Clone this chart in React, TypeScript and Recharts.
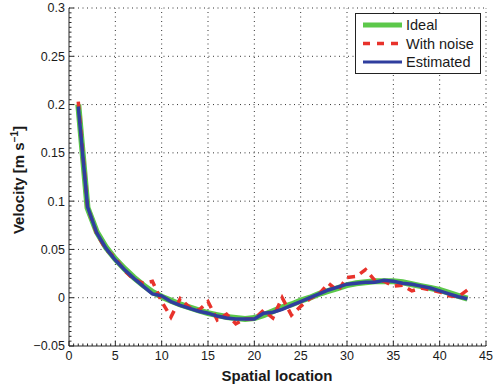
import React from 'react';
import { LineChart, Line, XAxis, YAxis, ReferenceLine, Legend } from 'recharts';

// ---------------------------------------------------------------------------
// data
// ---------------------------------------------------------------------------

const positions = [
  1, 2, 3, 4, 5, 6, 7, 8, 9, 10, 11, 12, 13, 14, 15, 16, 17, 18, 19, 20, 21, 22,
  23, 24, 25, 26, 27, 28, 29, 30, 31, 32, 33, 34, 35, 36, 37, 38, 39, 40, 41, 42, 43,
];

const ideal = [
  0.2, 0.093, 0.068, 0.052, 0.04, 0.03, 0.021, 0.013, 0.006, 0.001, -0.003, -0.007,
  -0.01, -0.013, -0.016, -0.018, -0.02, -0.021, -0.022, -0.021, -0.018, -0.014,
  -0.01, -0.007, -0.003, 0.0, 0.004, 0.007, 0.01, 0.013, 0.015, 0.016, 0.017, 0.017,
  0.017, 0.016, 0.014, 0.012, 0.01, 0.008, 0.005, 0.002, -0.001,
];

const withNoise = [
  0.203, 0.094, 0.066, 0.05, 0.041, 0.028, 0.019, 0.015, 0.017, -0.004, -0.02,
  -0.001, -0.01, -0.013, -0.004, -0.023, -0.017, -0.027, -0.022, -0.022, -0.013,
  -0.021, 0.0, -0.018, -0.009, -0.001, 0.004, 0.015, 0.007, 0.021, 0.022, 0.029,
  0.018, 0.017, 0.012, 0.013, 0.007, 0.01, 0.008, 0.006, 0.002, 0.001, 0.008,
];

const estimated = [
  0.198, 0.094, 0.067, 0.051, 0.039, 0.029, 0.02, 0.012, 0.004, 0.002, -0.004,
  -0.008, -0.011, -0.014, -0.016, -0.019, -0.021, -0.022, -0.022, -0.022, -0.016,
  -0.015, -0.012, -0.008, -0.004, 0.0, 0.004, 0.008, 0.011, 0.014, 0.015, 0.016,
  0.016, 0.018, 0.017, 0.015, 0.014, 0.012, 0.01, 0.007, 0.004, 0.001, -0.001,
];

const xMajorTicks = [0, 5, 10, 15, 20, 25, 30, 35, 40, 45];
const yMajorTicks = [-0.05, 0, 0.05, 0.1, 0.15, 0.2, 0.25, 0.3];
const yTickLabels = ['\u22120.05', '0', '0.05', '0.1', '0.15', '0.2', '0.25', '0.3'];

const seriesNames = ['Ideal', 'With noise', 'Estimated'];

// ---------------------------------------------------------------------------
// styles
// ---------------------------------------------------------------------------

const FONT = '"Liberation Sans", Arial, Helvetica, sans-serif';
const AXIS = '#262626';
const GREEN = '#5cc84a';
const RED = '#e8322b';
const BLUE = '#2f3e9e';

const data = positions.map((p, i) => ({
  x: p,
  ideal: ideal[i],
  noise: withNoise[i],
  est: estimated[i],
}));

// minor ticks: 10 per major interval (matlab style)
const xTicks = Array.from({ length: 91 }, (_, i) => i * 0.5);
const yTicks = Array.from({ length: 71 }, (_, i) => Math.round((-0.05 + i * 0.005) * 1000) / 1000);

const isMajor = (v: number, step: number) => Math.abs(v / step - Math.round(v / step)) < 1e-6;

function XTick(props: any) {
  const { x, y, payload } = props;
  const v = payload.value as number;
  const major = isMajor(v, 5);
  return (
    <g>
      <line x1={x} x2={x} y1={y} y2={y - (major ? 5 : 2.5)} stroke={AXIS} strokeWidth={1} />
      {major && (
        <text x={x} y={y + 14} textAnchor="middle" fontSize={12.5} fontFamily={FONT} fill="#1a1a1a">
          {v}
        </text>
      )}
    </g>
  );
}

function YTick(props: any) {
  const { x, y, payload } = props;
  const v = payload.value as number;
  const major = isMajor(v, 0.05);
  const idx = yMajorTicks.findIndex((t) => Math.abs(t - v) < 1e-6);
  return (
    <g>
      <line x1={x} x2={x + (major ? 5 : 2.5)} y1={y} y2={y} stroke={AXIS} strokeWidth={1} />
      {major && idx >= 0 && (
        <text x={x - 4} y={y} dy="0.35em" textAnchor="end" fontSize={12.5} fontFamily={FONT} fill="#1a1a1a">
          {yTickLabels[idx]}
        </text>
      )}
    </g>
  );
}

function LegendBox() {
  const rows = [
    { name: seriesNames[0], color: GREEN, width: 5, dash: undefined },
    { name: seriesNames[1], color: RED, width: 3.5, dash: '7 7' },
    { name: seriesNames[2], color: BLUE, width: 3, dash: undefined },
  ];
  return (
    <svg width={126} height={61} style={{ display: 'block' }}>
      <rect x={0.5} y={0.5} width={125} height={60} fill="#fff" stroke="#222" strokeWidth={1} />
      {rows.map((r, i) => (
        <g key={r.name}>
          <line
            x1={8}
            x2={47}
            y1={12 + i * 18.5}
            y2={12 + i * 18.5}
            stroke={r.color}
            strokeWidth={r.width}
            strokeDasharray={r.dash}
          />
          <text x={51} y={12 + i * 18.5} dy="0.36em" fontSize={14.5} fontFamily={FONT} fill="#1a1a1a">
            {r.name}
          </text>
        </g>
      ))}
    </svg>
  );
}

export default function App() {
  return (
    <div style={{ position: 'absolute', left: 0, top: 0, width: 495, height: 389, background: '#fff' }}>
      <LineChart
        width={495}
        height={389}
        data={data}
        margin={{ top: 8, right: 9, left: 0, bottom: 0 }}
      >
        {xMajorTicks.slice(1).map((t) => (
          <ReferenceLine key={`gx${t}`} x={t} stroke="#333" strokeDasharray="1 3.5" strokeWidth={1} />
        ))}
        {yMajorTicks.slice(1).map((t) => (
          <ReferenceLine key={`gy${t}`} y={t} stroke="#333" strokeDasharray="1 3.5" strokeWidth={1} />
        ))}
        <XAxis
          dataKey="x"
          type="number"
          domain={[0, 45]}
          ticks={xTicks}
          interval={0}
          tickSize={0}
          tickMargin={0}
          tickLine={false}
          tick={<XTick />}
          axisLine={{ stroke: AXIS, strokeWidth: 1 }}
          height={43}
          label={{
            content: () => (
              <text x={277} y={381} textAnchor="middle" fontSize={15} fontWeight="bold" fontFamily={FONT} fill="#1a1a1a">
                Spatial location
              </text>
            ),
          }}
        />
        <YAxis
          type="number"
          domain={[-0.05, 0.3]}
          ticks={yTicks}
          interval={0}
          tickSize={0}
          tickMargin={0}
          tickLine={false}
          tick={<YTick />}
          axisLine={{ stroke: AXIS, strokeWidth: 1 }}
          width={69}
          allowDataOverflow
          label={{
            content: () => (
              <text
                transform="translate(24 180) rotate(-90)"
                textAnchor="middle"
                fontSize={15}
                fontWeight="bold"
                fontFamily={FONT}
                fill="#1a1a1a"
              >
                Velocity [m s
                <tspan dy={-6} fontSize={10}>
                  {'\u22121'}
                </tspan>
                <tspan dy={6}>]</tspan>
              </text>
            ),
          }}
        />
        <Line
          type="linear"
          dataKey="ideal"
          name={seriesNames[0]}
          stroke={GREEN}
          strokeWidth={6}
          dot={false}
          isAnimationActive={false}
        />
        <Line
          type="linear"
          dataKey="noise"
          name={seriesNames[1]}
          stroke={RED}
          strokeWidth={3.5}
          strokeDasharray="8 6"
          dot={false}
          isAnimationActive={false}
        />
        <Line
          type="linear"
          dataKey="est"
          name={seriesNames[2]}
          stroke={BLUE}
          strokeWidth={3.5}
          dot={false}
          isAnimationActive={false}
        />
        <Legend
          layout="horizontal"
          verticalAlign="middle"
          align="center"
          content={() => <LegendBox />}
          wrapperStyle={{ left: 355, top: 13, width: 126, height: 61 }}
        />
      </LineChart>
    </div>
  );
}
